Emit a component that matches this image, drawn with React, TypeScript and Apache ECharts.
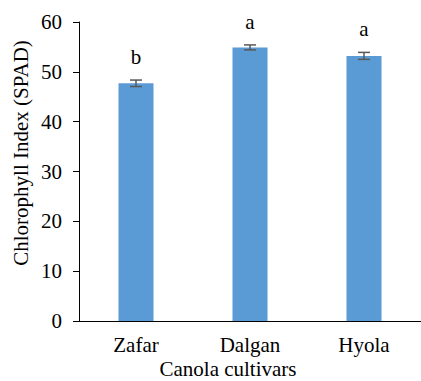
import React, { useEffect, useRef } from "react";
import * as echarts from "echarts";

const categories = ["Zafar", "Dalgan", "Hyola"];
const means = [47.7, 54.9, 53.2];
const errors = [0.65, 0.5, 0.7];
const letters = ["b", "a", "a"];
const yTicks = { min: 0, max: 60, interval: 10 };

const FONT = "'Liberation Serif', 'Times New Roman', serif";
const FS = 21;

export default function App() {
  const ref = useRef<HTMLDivElement>(null);
  useEffect(() => {
    if (!ref.current) return;
    const chart = echarts.init(ref.current, null, { renderer: "svg" });
    const customData = means.map((m, i) => [i, m, errors[i]]);
    chart.setOption({
      animation: false,
      backgroundColor: "#ffffff",
      grid: { left: 79, top: 22, width: 345, height: 299, containLabel: false },
      xAxis: {
        type: "category",
        data: categories,
        axisLine: { lineStyle: { color: "#000", width: 1 } },
        axisTick: { show: false },
        axisLabel: { color: "#000", fontFamily: FONT, fontSize: FS, margin: 13 },
      },
      yAxis: {
        type: "value",
        min: yTicks.min,
        max: yTicks.max,
        interval: yTicks.interval,
        axisLine: { show: true, lineStyle: { color: "#000", width: 1 } },
        axisTick: { show: true, length: 6, lineStyle: { color: "#000" } },
        splitLine: { show: false },
        axisLabel: { color: "#000", fontFamily: FONT, fontSize: FS, margin: 17 },
      },
      graphic: [
        {
          type: "text",
          x: 21,
          y: 153,
          rotation: Math.PI / 2,
          style: {
            text: "Chlorophyll Index (SPAD)",
            fontFamily: FONT,
            fontSize: FS,
            fill: "#000",
            align: "center",
            verticalAlign: "middle",
          },
        },
        {
          type: "text",
          x: 228,
          y: 369,
          style: {
            text: "Canola cultivars",
            fontFamily: FONT,
            fontSize: FS,
            fill: "#000",
            align: "center",
            verticalAlign: "middle",
          },
        },
      ],
      series: [
        {
          type: "bar",
          data: means,
          barWidth: 35,
          itemStyle: { color: "#5b9bd5" },
        },
        {
          type: "custom",
          data: customData,
          z: 10,
          renderItem: (params: any, api: any) => {
            const idx = api.value(0);
            const m = api.value(1);
            const e = api.value(2);
            const top = api.coord([idx, m + e]);
            const bot = api.coord([idx, m - e]);
            const hw = 6;
            const style = { stroke: "#595959", lineWidth: 1.5 };
            return {
              type: "group",
              children: [
                { type: "line", shape: { x1: top[0], y1: top[1], x2: bot[0], y2: bot[1] }, style },
                { type: "line", shape: { x1: top[0] - hw, y1: top[1], x2: top[0] + hw, y2: top[1] }, style },
                { type: "line", shape: { x1: bot[0] - hw, y1: bot[1], x2: bot[0] + hw, y2: bot[1] }, style },
                {
                  type: "text",
                  x: top[0],
                  y: top[1] - 23,
                  style: {
                    text: letters[params.dataIndex],
                    fontFamily: FONT,
                    fontSize: FS,
                    fill: "#000",
                    align: "center",
                    verticalAlign: "middle",
                  },
                },
              ],
            };
          },
        },
      ],
    });
    return () => chart.dispose();
  }, []);
  return (
    <div
      ref={ref}
      style={{ position: "fixed", left: 0, top: 0, width: 421, height: 381 }}
    />
  );
}
